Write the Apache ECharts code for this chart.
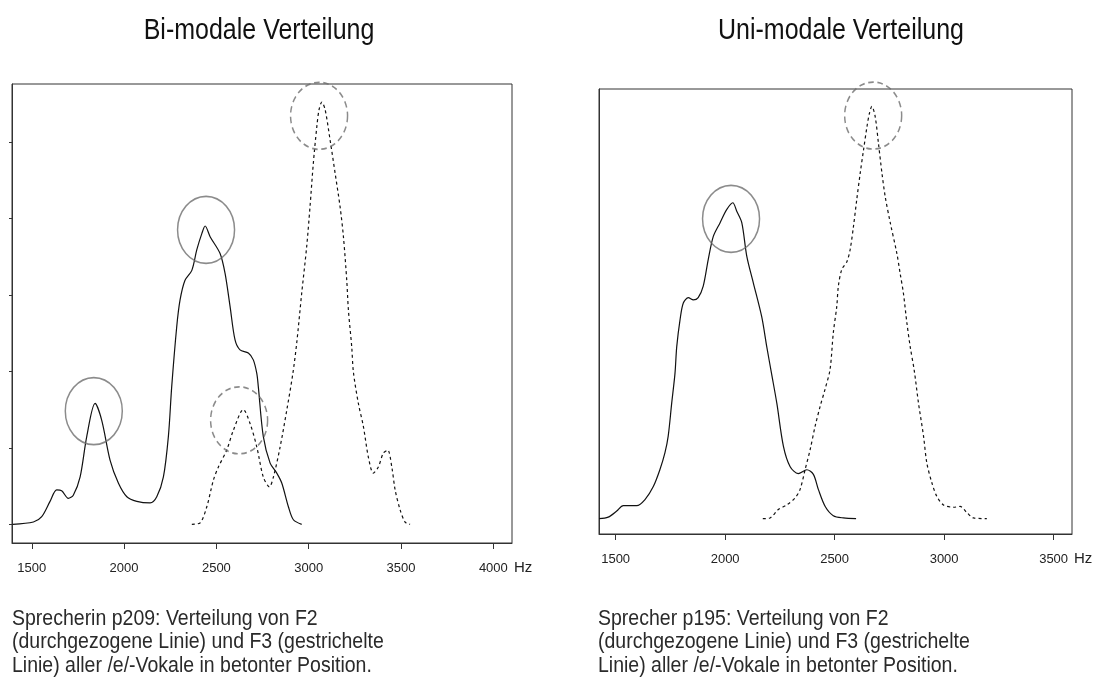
<!DOCTYPE html>
<html>
<head>
<meta charset="utf-8">
<script src="https://cdn.jsdelivr.net/npm/echarts@6/dist/echarts.min.js"></script>
<style>
html,body{margin:0;padding:0;background:#fff;}
#chart{width:1113px;height:677px;}
</style>
</head>
<body>
<div id="chart"></div>
<script>
// ---- data (Hz, relative density) ----
const titles = ['Bi-modale Verteilung', 'Uni-modale Verteilung'];
const captions = [
  'Sprecherin p209: Verteilung von F2\n(durchgezogene Linie) und F3 (gestrichelte\nLinie) aller /e/-Vokale in betonter Position.',
  'Sprecher p195: Verteilung von F2\n(durchgezogene Linie) und F3 (gestrichelte\nLinie) aller /e/-Vokale in betonter Position.'
];
const ticksLeft = [1500, 2000, 2500, 3000, 3500, 4000];
const ticksRight = [1500, 2000, 2500, 3000, 3500];
const yTicksLeft = [0, 1, 2, 3, 4, 5];

// Left: speaker p209, F2 (solid)
const f2LeftHz = [1397,1509,1554,1599,1635,1662,1698,1725,1762,1798,1843,1879,1924,1969,2015,2069,2141,2177,2213,2240,2258,2285,2303,2330,2367,2394,2421,2439,2466,2520,2547,2574,2601,2628,2673,2700,2719,2727,2754,2791,2827,2854,2890,2917,2962];
const f2LeftY  = [0.00,0.03,0.10,0.30,0.45,0.44,0.34,0.38,0.62,1.15,1.58,1.36,0.84,0.54,0.36,0.30,0.28,0.36,0.62,1.15,1.80,2.58,2.93,3.19,3.32,3.59,3.80,3.90,3.76,3.54,3.28,2.85,2.41,2.28,2.24,2.15,1.97,1.80,1.15,0.80,0.67,0.54,0.23,0.06,0.00];
// Left: speaker p209, F3 (dashed)
const f3LeftHz = [2367,2412,2448,2484,2511,2556,2592,2646,2682,2719,2754,2787,2809,2845,2881,2914,2935,2962,2989,3007,3025,3044,3056,3071,3089,3116,3143,3170,3188,3206,3215,3233,3242,3269,3296,3323,3350,3377,3404,3428,3450,3468,3495,3522,3549];
const f3LeftY  = [0.00,0.02,0.23,0.58,0.75,0.97,1.23,1.50,1.32,1.01,0.62,0.49,0.62,1.01,1.49,1.97,2.37,3.02,3.63,4.15,4.72,5.20,5.42,5.52,5.42,5.02,4.59,4.15,3.76,3.19,2.80,2.32,1.99,1.58,1.28,0.88,0.67,0.75,0.93,0.97,0.75,0.45,0.19,0.03,0.00];
// Right: speaker p195, F2 (solid)
const f2RightHz = [1424,1466,1505,1535,1596,1634,1672,1702,1725,1740,1756,1771,1779,1794,1809,1832,1855,1877,1900,1923,1946,1977,2007,2035,2053,2076,2099,2129,2167,2190,2213,2236,2266,2297,2334,2373,2403,2426,2457,2494,2540,2598];
const f2RightY  = [0.00,0.02,0.10,0.17,0.17,0.25,0.42,0.64,0.86,1.08,1.51,1.90,2.25,2.60,2.82,2.89,2.86,2.89,3.04,3.39,3.69,3.87,4.04,4.13,4.02,3.87,3.43,3.08,2.64,2.25,1.88,1.51,0.95,0.68,0.59,0.64,0.58,0.38,0.16,0.04,0.01,0.00];
// Right: speaker p195, F3 (dashed)
const f3RightHz = [2172,2205,2243,2281,2319,2342,2365,2388,2411,2434,2456,2479,2494,2510,2517,2533,2556,2571,2586,2601,2617,2632,2648,2659,2670,2685,2700,2716,2731,2754,2784,2799,2814,2830,2845,2864,2883,2906,2921,2944,2967,2997,3043,3073,3104,3134,3195];
const f3RightY  = [0.00,0.01,0.12,0.18,0.27,0.38,0.64,0.90,1.21,1.47,1.69,1.95,2.43,2.78,3.04,3.26,3.36,3.52,3.82,4.17,4.52,4.82,5.13,5.30,5.39,5.26,4.91,4.52,4.21,3.87,3.47,3.21,2.95,2.56,2.25,1.93,1.51,1.08,0.73,0.47,0.29,0.18,0.15,0.16,0.08,0.01,0.00];

// highlighted peaks (annotation ellipses): [Hz, density]
const solidCirclesLeft  = [[1836, 1.48], [2444, 3.85]];
const dashedCirclesLeft = [[3056, 5.34], [2623, 1.36]];
const solidCirclesRight  = [[2027, 3.92]];
const dashedCirclesRight = [[2676, 5.27]];

const zip = (a, b) => a.map((v, i) => [v, b[i]]);

const FONT = 'Liberation Sans, Arial, sans-serif';
const lineColor = '#111';
const circleColor = '#6e6e6e';

function xAxis(gridIndex, min, max, ticks, nameGap) {
  return {
    type: 'value', gridIndex, min, max,
    axisLine: { show: true, onZero: false, lineStyle: { color: '#333', width: 1 } },
    axisTick: { show: true, customValues: ticks, length: 6, lineStyle: { color: '#333' } },
    axisLabel: { customValues: ticks, formatter: v => String(v), color: '#222', fontFamily: FONT, fontSize: 13, margin: 19 },
    splitLine: { show: false },
    name: 'Hz', nameLocation: 'end', nameGap,
    nameTextStyle: { color: '#222', fontFamily: FONT, fontSize: 15, verticalAlign: 'top', padding: [17, 0, 0, 0] }
  };
}
function yAxis(gridIndex, min, max, ticks) {
  return {
    type: 'value', gridIndex, min, max,
    axisLine: { show: true, onZero: false, lineStyle: { color: '#333', width: 1 } },
    axisTick: { show: ticks.length > 0, customValues: ticks, length: 3, lineStyle: { color: '#333' } },
    axisLabel: { show: false },
    splitLine: { show: false }
  };
}
function curve(data, xi, dashed) {
  return {
    type: 'line', xAxisIndex: xi, yAxisIndex: xi, data, showSymbol: false, smooth: 0.3,
    silent: true, animation: false,
    lineStyle: { color: lineColor, width: 1.2, type: dashed ? [3, 3] : 'solid' }
  };
}
function circles(data, xi, dashed) {
  return {
    type: 'scatter', xAxisIndex: xi, yAxisIndex: xi, data, symbol: 'circle', symbolSize: [57, 67],
    silent: true, animation: false, z: 5,
    itemStyle: { color: 'rgba(0,0,0,0)', borderColor: circleColor, borderWidth: 1.6, borderType: dashed ? [6, 4] : 'solid' }
  };
}
function titleText(text, x, y) {
  return { type: 'text', x, y, scaleY: 1.15, style: { text, fill: '#111', font: '25px ' + FONT, textAlign: 'center', textVerticalAlign: 'middle' } };
}
function captionText(text, x, y) {
  return { type: 'text', x, y, scaleY: 1.15, style: { text, fill: '#2a2a2a', font: '19.5px ' + FONT, lineHeight: 20.3, textAlign: 'left', textVerticalAlign: 'top' } };
}

const chart = echarts.init(document.getElementById('chart'), null, { renderer: 'canvas' });
chart.setOption({
  backgroundColor: '#fff',
  animation: false,
  grid: [
    { left: 12, top: 84, width: 500, height: 459, show: true, borderColor: '#333', borderWidth: 1, backgroundColor: 'transparent' },
    { left: 599, top: 89, width: 473, height: 445, show: true, borderColor: '#333', borderWidth: 1, backgroundColor: 'transparent' }
  ],
  xAxis: [xAxis(0, 1393, 4101, ticksLeft, 2), xAxis(1, 1424, 3584, ticksRight, 1)],
  yAxis: [yAxis(0, -0.244, 5.756, yTicksLeft), yAxis(1, -0.2, 5.617, [])],
  series: [
    curve(zip(f2LeftHz, f2LeftY), 0, false),
    curve(zip(f3LeftHz, f3LeftY), 0, true),
    curve(zip(f2RightHz, f2RightY), 1, false),
    curve(zip(f3RightHz, f3RightY), 1, true),
    circles(solidCirclesLeft, 0, false),
    circles(dashedCirclesLeft, 0, true),
    circles(solidCirclesRight, 1, false),
    circles(dashedCirclesRight, 1, true)
  ],
  graphic: [
    titleText(titles[0], 259, 31),
    titleText(titles[1], 841, 31),
    captionText(captions[0], 12, 607),
    captionText(captions[1], 598, 607)
  ]
});
</script>
</body>
</html>
